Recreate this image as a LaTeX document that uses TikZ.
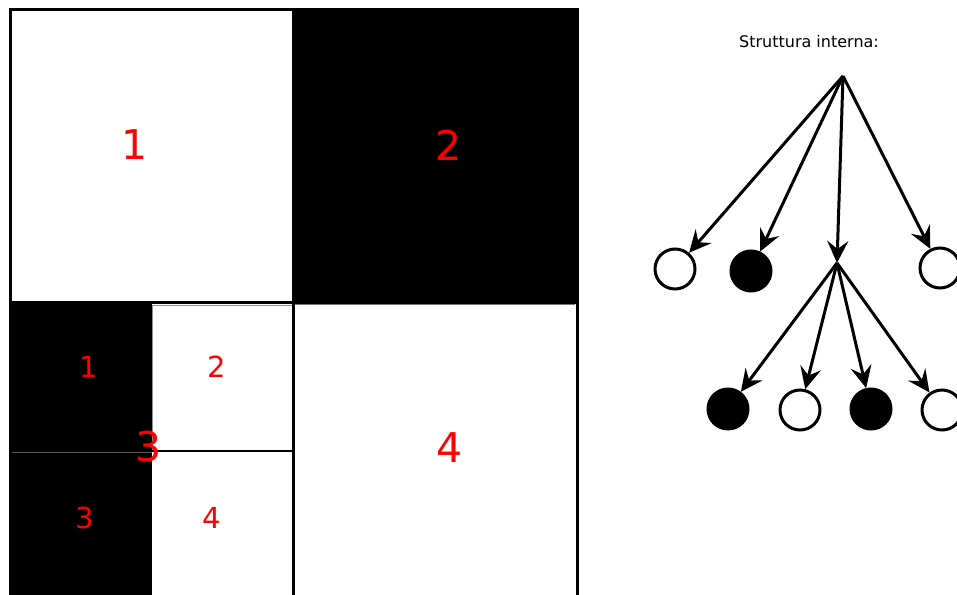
\documentclass[tikz,border=0pt]{standalone}
\usepackage{fontspec}
\setmainfont{DejaVu Sans}
\usetikzlibrary{arrows.meta}
\begin{document}
\begin{tikzpicture}[x=1pt,y=-1pt,
  big/.style={text=red,font=\fontsize{41}{41}\selectfont,inner sep=0pt},
  small/.style={text=red,font=\fontsize{29}{29}\selectfont,inner sep=0pt},
  leafw/.style={circle,draw=black,fill=white,line width=3pt,minimum size=40pt,inner sep=0pt},
  leafb/.style={circle,draw=black,fill=black,line width=3pt,minimum size=40pt,inner sep=0pt},
  link/.style={line width=3pt,-{Stealth[length=22pt,width=21pt,inset=8pt]}}]
\useasboundingbox (0,0) rectangle (957,594);
\begin{scope}
\clip (0,0) rectangle (957,594);
% quadrant fills
\fill[white] (10,10) rectangle (577,600);
\fill[black] (293,10) rectangle (577,303.5);
\fill[black] (10,302) rectangle (152,600);
% sub-box 2 and 4 borders
\draw[black!45,line width=1pt] (152,305.5) rectangle (292,451);
\draw[black,line width=2.5pt] (152,451) -- (293,451);
\draw[black!65,line width=1pt] (10,452) -- (152,452);
% quadrant 4 top border
\draw[black!55,line width=1pt] (295,304) -- (575,304);
% quadrant dividers
\draw[black,line width=3pt] (293,10) -- (293,600);
\draw[black,line width=3pt] (10,302) -- (293,302);
% outer border
\draw[black,line width=3pt] (10,600) -- (10,10) -- (577,10) -- (577,600);
% labels
\node[big] (q1) at (135,145) {1};
\node[big] (q2) at (449,145) {2};
\node[big] (q3) at (149,447) {3};
\node[big] (q4) at (450,448) {4};
\node[small] (s1) at (89,367) {1};
\node[small] (s2) at (217,367) {2};
\node[small] (s3) at (85,518) {3};
\node[small] (s4) at (212,518) {4};
% tree
\node[font=\fontsize{16}{16}\selectfont,inner sep=0pt] (title) at (809,42) {Struttura interna:};
\coordinate (root) at (843,76);
\coordinate (mid) at (837,263);
\node[leafw] (c1) at (675,269) {};
\node[leafb] (c2) at (751,271) {};
\node[leafw] (c4) at (940,268) {};
\node[leafb] (d1) at (728,409) {};
\node[leafw] (d2) at (800,410) {};
\node[leafb] (d3) at (871,409) {};
\node[leafw] (d4) at (942,410) {};
\draw[link] (root) -- (c1);
\draw[link] (root) -- (c2);
\draw[link] (root) -- (mid);
\draw[link] (root) -- (c4);
\draw[link] (mid) -- (d1);
\draw[link] (mid) -- (d2);
\draw[link] (mid) -- (d3);
\draw[link] (mid) -- (d4);
\end{scope}
\end{tikzpicture}
\end{document}
